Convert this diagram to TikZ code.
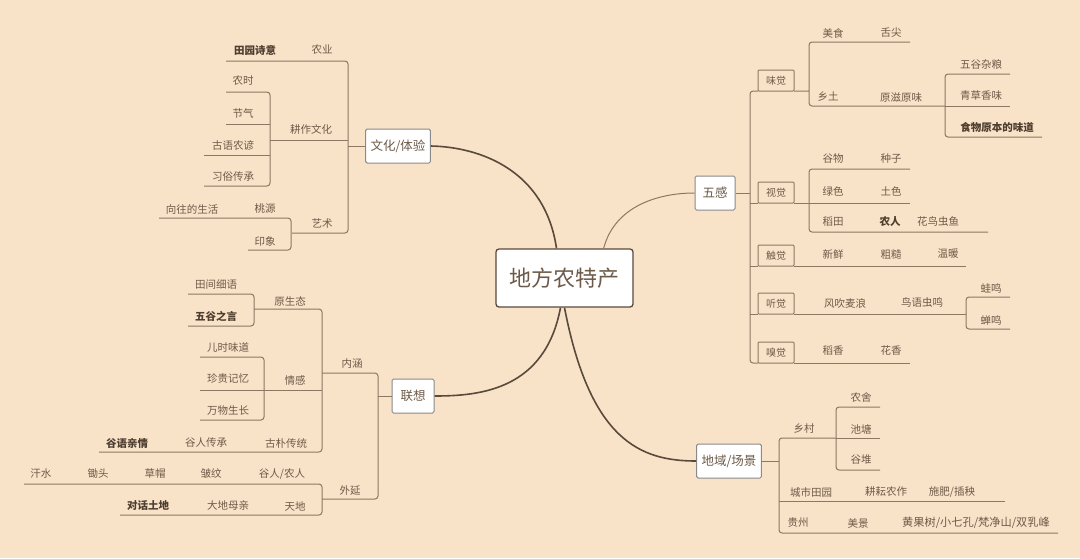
\documentclass[tikz,border=0pt]{standalone}
\usepackage{fontspec}
\setmainfont{Noto Sans CJK SC}
\begin{document}
\begin{tikzpicture}[x=1pt,y=-1pt,
 t/.style={text=txt,font=\fontsize{10.5}{12}\selectfont,inner sep=0pt},
 tb/.style={t,font=\fontsize{10.5}{12}\selectfont\bfseries,text=txtb},
 ln/.style={draw=lnc,line width=1pt},
 main/.style={draw=lnd,line width=1.6pt},
 box/.style={draw=boxd,fill=white,line width=1pt,rounded corners=1.5pt,text=txt,font=\fontsize{12.5}{14}\selectfont,minimum height=34pt,inner xsep=5pt},
 sbox/.style={draw=lnc,line width=1pt,rounded corners=1pt,text=txt,font=\fontsize{10}{12}\selectfont,minimum width=36pt,minimum height=21pt,inner sep=0pt}]
\definecolor{bg}{HTML}{F8E2C8}
\definecolor{txt}{HTML}{6E5A48}
\definecolor{txtb}{HTML}{4E3E30}
\definecolor{lnc}{HTML}{8C7862}
\definecolor{lnd}{HTML}{5A4A3C}
\definecolor{boxd}{HTML}{8A8A8A}
\fill[bg] (0,0) rectangle (1080,558);
\useasboundingbox (0,0) rectangle (1080,558);
% center and main boxes
\node[draw=lnd,fill=white,line width=1.3pt,rounded corners=3pt,minimum width=137pt,minimum height=58pt,text=txt,font=\fontsize{22}{26}\selectfont] (c) at (564.5,278) {地方农特产};
\node[box] (wh) at (398,146) {文化/体验};
\node[box,minimum width=42pt] (lx) at (413,396) {联想};
\node[box,minimum width=40pt] (wg) at (715,193) {五感};
\node[box] (dy) at (729,461) {地域/场景};
\draw[main] (c.north) ++(-8,0) coordinate (c1) .. controls (545,170) and (480,147) .. (wh.east);
\draw[main] (c.south) ++(-4,0) coordinate (c2) .. controls (545,390) and (480,396) .. (lx.east);
\draw[draw=lnc,line width=1pt] (c.north east) ++(-30,0) coordinate (c3) .. controls (615,205) and (660,193) .. (wg.west);
\draw[main] (c.south) coordinate (c4) .. controls (590,440) and (640,461) .. (dy.west);

% ===== 文化/体验 =====
\draw[ln] (wh.west) -- (348,146);
\draw[ln,rounded corners=3pt] (226,61) -- (348,61) -- (348,233) -- (292,233);
\draw[ln] (270,140) -- (348,140);
\node[tb] at (255,50) {田园诗意}; \node[t] at (322,50) {农业};
\node[t] at (311,129) {耕作文化};
\draw[ln,rounded corners=3pt] (226,92) -- (270,92) -- (270,186) -- (204,186);
\draw[ln] (226,124) -- (270,124); \draw[ln] (204,155) -- (270,155);
\node[t] at (243,81) {农时}; \node[t] at (243,113) {节气};
\node[t] at (233,145) {古语农谚}; \node[t] at (233,177) {习俗传承};
\node[t] at (322,224) {艺术};
\draw[ln,rounded corners=3pt] (159,218) -- (291,218) -- (291,250) -- (248,250);
\node[t] at (192,209) {向往的生活}; \node[t] at (265,209) {桃源};
\node[t] at (265,241) {印象};

% ===== 联想 =====
\draw[ln] (lx.west) -- (378,396);
\draw[ln,rounded corners=3pt] (322,373) -- (378,373) -- (378,499) -- (322,499);
\node[t] at (352,364) {内涵}; \node[t] at (350,491) {外延};
\draw[ln,rounded corners=3pt] (254,309) -- (322,309) -- (322,452) -- (99,452);
\draw[ln] (200,390) -- (322,390);
\node[t] at (290,301) {原生态}; \node[t] at (295,380) {情感};
\draw[ln,rounded corners=3pt] (188,294) -- (254,294) -- (254,326) -- (188,326);
\node[t] at (216,284) {田间细语}; \node[tb] at (216,316) {五谷之言};
\draw[ln,rounded corners=3pt] (200,357) -- (264,357) -- (264,420) -- (200,420);
\node[t] at (228,347) {儿时味道}; \node[t] at (228,379) {珍贵记忆}; \node[t] at (228,411) {万物生长};
\node[tb] at (127,443) {谷语亲情}; \node[t] at (206,443) {谷人传承}; \node[t] at (286,443) {古朴传统};
\draw[ln,rounded corners=3pt] (24,484) -- (322,484) -- (322,515) -- (120,515);
\node[t] at (41,474) {汗水}; \node[t] at (98,474) {锄头}; \node[t] at (155,474) {草帽};
\node[t] at (211,474) {皱纹}; \node[t] at (282,474) {谷人/农人};
\node[tb] at (148,506) {对话土地}; \node[t] at (228,506) {大地母亲}; \node[t] at (295,506) {天地};

% ===== 五感 =====
\draw[ln] (wg.east) -- (750,193);
\draw[ln,rounded corners=3pt] (758,91) -- (750,91) -- (750,363) -- (758,363);
\foreach \n/\y/\s in {wj/80.5/味觉,sj/192.5/视觉,cj/255.5/触觉,tj/303.5/听觉,xj/352.5/嗅觉}
  \node[sbox] (\n) at (776,\y) {\s};
\draw[ln] (750,203) -- (758,203); \draw[ln] (750,266) -- (758,266); \draw[ln] (750,314) -- (758,314);
% 味觉
\draw[ln,rounded corners=3pt] (794,91) -- (809,91) (910,42) -- (809,42) -- (809,106) -- (945,106);
\node[t] at (833,33) {美食}; \node[t] at (891,33) {舌尖};
\node[t] at (828,97) {乡土}; \node[t] at (901,97) {原滋原味};
\draw[ln,rounded corners=3pt] (1010,74) -- (945,74) -- (945,137) -- (1042,137);
\draw[ln] (945,106) -- (1010,106);
\node[t] at (981,64) {五谷杂粮}; \node[t] at (981,96) {青草香味}; \node[tb] at (997,127) {食物原本的味道};
% 视觉
\draw[ln,rounded corners=3pt] (910,169) -- (809,169) -- (809,232) -- (988,232);
\draw[ln] (794,203) -- (910,203);
\node[t] at (833,159) {谷物}; \node[t] at (891,159) {种子};
\node[t] at (833,191) {绿色}; \node[t] at (891,191) {土色};
\node[t] at (833,222) {稻田}; \node[tb] at (890,222) {农人}; \node[t] at (938,222) {花鸟虫鱼};
% 触觉
\draw[ln] (794,266) -- (966,266);
\node[t] at (833,254) {新鲜}; \node[t] at (891,254) {粗糙}; \node[t] at (948,254) {温暖};
% 听觉
\draw[ln] (794,314) -- (966,314);
\node[t] at (845,303) {风吹麦浪}; \node[t] at (922,303) {鸟语虫鸣};
\draw[ln,rounded corners=3pt] (1010,297) -- (966,297) -- (966,329) -- (1010,329);
\node[t] at (991,288) {蛙鸣}; \node[t] at (991,320) {蝉鸣};
% 嗅觉
\draw[ln] (794,363) -- (910,363);
\node[t] at (833,351) {稻香}; \node[t] at (891,351) {花香};

% ===== 地域/场景 =====
\draw[ln] (dy.east) -- (779,461);
\draw[ln,rounded corners=3pt] (836,438) -- (779,438) -- (779,533) -- (1058,533);
\draw[ln] (779,501) -- (1005,501);
\node[t] at (804,429) {乡村};
\draw[ln,rounded corners=3pt] (880,407) -- (836,407) -- (836,470) -- (880,470);
\draw[ln] (836,438) -- (880,438);
\node[t] at (861,397) {农舍}; \node[t] at (861,429) {池塘}; \node[t] at (861,460) {谷堆};
\node[t] at (811,492) {城市田园}; \node[t] at (886,492) {耕耘农作}; \node[t] at (952,492) {施肥/插秧};
\node[t] at (798,523) {贵州}; \node[t] at (858,523) {美景}; \node[t,font=\fontsize{11.2}{13}\selectfont] at (976,523) {黄果树/小七孔/梵净山/双乳峰};
\end{tikzpicture}
\end{document}
